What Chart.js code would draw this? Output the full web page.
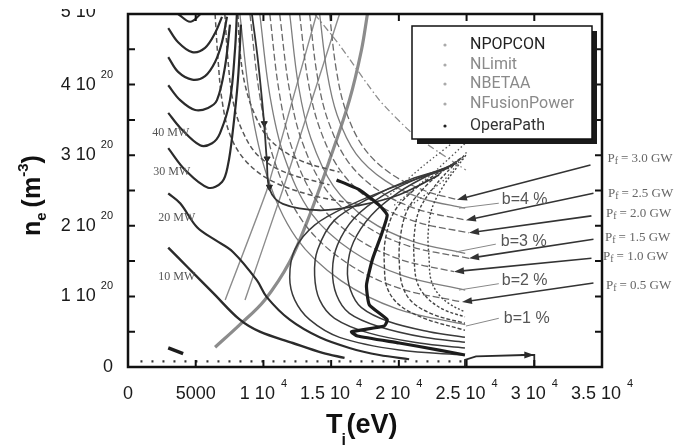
<!DOCTYPE html>
<html>
<head>
<meta charset="utf-8">
<script src="https://cdn.jsdelivr.net/npm/chart.js@4.4.0/dist/chart.umd.min.js"></script>
<style>
  body { margin: 0; background: #fff; }
  #wrap { width: 681px; height: 446px; }
</style>
</head>
<body>
<div id="wrap"><canvas id="popcon" width="681" height="446"></canvas></div>
<script>
// ---- axis ticks ----
var xTicks = [0, 5000, 10000, 15000, 20000, 25000, 30000, 35000]
var xTickText = ['0', '5000', '1 10', '1.5 10', '2 10', '2.5 10', '3 10', '3.5 10']
var xTickExp = ['', '', '4', '4', '4', '4', '4', '4']
var yTicks = [0, 1, 2, 3, 4, 5]
var yTickText = ['0', '1 10', '2 10', '3 10', '4 10', '5 10']
var yTickExp = ['', '20', '20', '20', '20', '20']
var yMinorTicks = [0.5, 1, 1.5, 2, 2.5, 3, 3.5, 4, 4.5]

// ---- POPCON contours, [Ti eV, ne 1e20] ----
var popU1 = [[3700, 5.0], [4590, 4.89], [5320, 4.99]]
var popU2 = [[2970, 4.80], [3700, 4.60], [4740, 4.46], [5690, 4.52], [6430, 4.73], [6940, 4.96]]
var popU3 = [[2970, 4.39], [3700, 4.18], [4740, 4.07], [5690, 4.12], [6430, 4.32], [6940, 4.60], [7310, 4.96]]
var popU4 = [[2970, 3.99], [3850, 3.78], [4960, 3.64], [5910, 3.67], [6570, 3.78], [7160, 4.25], [7530, 4.85]]
var pop40 = [[2970, 3.60], [3850, 3.39], [5320, 3.14], [6210, 3.17], [6790, 3.31], [7530, 3.78], [7900, 4.49], [8040, 5.0]]
var pop30 = [[2970, 3.10], [4220, 2.79], [5910, 2.54], [6940, 2.62], [7380, 2.86], [7750, 3.36], [8120, 4.07], [8340, 4.85]]
var pop20 = [[2970, 2.46], [3850, 2.32], [5100, 1.98], [6430, 1.80], [7750, 1.63], [9510, 1.23], [10250, 0.99], [11940, 0.67], [14150, 0.42], [16350, 0.27], [18560, 0.17], [20760, 0.11]]
var pop10 = [[2970, 1.69], [4370, 1.42], [6280, 1.05], [8260, 0.67], [9730, 0.50], [12160, 0.34], [14370, 0.20], [15990, 0.13]]
var popU7 = [[9150, 5.0], [9590, 4.35], [10030, 3.50], [10250, 2.93], [10470, 2.51], [11430, 2.31], [14150, 2.22], [17090, 2.29], [20030, 2.44], [22970, 2.72]]
var popU7Arrows = [[10060, 3.45], [10270, 2.95], [10440, 2.55]]

var arc1 = [[23340, 2.79], [20030, 2.58], [16350, 2.29], [13780, 2.01], [12310, 1.66], [11940, 1.27], [12310, 0.95], [13410, 0.67], [15620, 0.42], [20030, 0.24], [24880, 0.17]]
var arc2 = [[23700, 2.82], [20760, 2.65], [17820, 2.39], [15250, 2.08], [14000, 1.66], [13780, 1.30], [14150, 0.95], [15250, 0.69], [17820, 0.48], [21500, 0.34], [24880, 0.27]]
var arc3 = [[24070, 2.86], [21500, 2.68], [18930, 2.44], [16720, 2.11], [15470, 1.73], [15100, 1.37], [15400, 1.02], [16350, 0.76], [18560, 0.57], [21870, 0.42], [24880, 0.35]]
var arc4 = [[24290, 2.89], [22230, 2.72], [20030, 2.48], [17970, 2.15], [16650, 1.77], [16210, 1.40], [16430, 1.09], [17240, 0.84], [19290, 0.64], [22230, 0.50], [24880, 0.42]]
var arc5 = [[24440, 2.93], [22970, 2.76], [21130, 2.51], [19660, 2.20], [19000, 1.80], [18930, 1.44], [19140, 1.12], [20030, 0.88], [21870, 0.69], [24880, 0.52]]
var arc6 = [[24590, 2.96], [23340, 2.79], [21870, 2.54], [20620, 2.22], [20100, 1.83], [20030, 1.49], [20250, 1.16], [20980, 0.92], [22600, 0.74], [24880, 0.62]]
var arc7 = [[24810, 2.99], [23850, 2.82], [22600, 2.55], [21500, 2.22], [21130, 1.86], [21130, 1.52], [21350, 1.20], [22080, 0.98], [23340, 0.81], [24880, 0.71]]
var arc8 = [[24950, 3.00], [24290, 2.83], [23340, 2.58], [22450, 2.25], [22160, 1.88], [22230, 1.54], [22380, 1.23], [22970, 1.02], [23850, 0.88], [24880, 0.78]]
var fan1 = [[18930, 2.37], [21870, 2.86], [25030, 3.33]]
var fan2 = [[19660, 2.29], [22600, 2.76], [25030, 3.19]]
var fan3 = [[20400, 2.22], [23340, 2.65], [25030, 3.05]]
var popDash1 = [[6430, 5.0], [6650, 4.35], [6940, 3.78], [7530, 3.29], [8640, 2.93], [10470, 2.65], [13410, 2.44], [17090, 2.30]]
var popDash2 = [[7150, 5.0], [7380, 4.35], [7740, 3.78], [8410, 3.36], [9580, 3.00], [11570, 2.76], [14880, 2.58]]
var popDash3 = [[8120, 5.0], [8260, 4.49], [8640, 4.00], [9370, 3.57], [10470, 3.22], [12670, 2.93], [15620, 2.76]]

// ---- fusion power curves (Pf) ----
var pf30 = [[14880, 5.0], [15380, 4.21], [16080, 3.63], [17390, 3.11], [19390, 2.74], [21890, 2.50], [24290, 2.37]]
var pf25 = [[13410, 5.0], [13980, 4.12], [14790, 3.48], [16280, 2.90], [18580, 2.49], [21450, 2.23], [24950, 2.08]]
var pf20 = [[12670, 5.0], [13280, 4.07], [14140, 3.39], [15730, 2.77], [18170, 2.33], [21230, 2.06], [25180, 1.90]]
var pf15 = [[11200, 5.0], [11890, 3.96], [12840, 3.20], [14630, 2.51], [17370, 2.02], [20790, 1.71], [25180, 1.54]]
var pf10 = [[10470, 5.0], [11150, 3.91], [12110, 3.10], [13880, 2.37], [16600, 1.86], [20010, 1.53], [24070, 1.35]]
var pf05 = [[9000, 5.0], [9780, 3.78], [10880, 2.88], [12910, 2.06], [16040, 1.49], [19960, 1.12], [24660, 0.92]]

// ---- beta curves ----
var beta4 = [[14150, 5.0], [14690, 4.18], [15440, 3.57], [16840, 3.02], [18990, 2.64], [21680, 2.39], [24900, 2.25]]
var beta3 = [[11940, 5.0], [12590, 3.98], [13500, 3.24], [15180, 2.56], [17770, 2.08], [21010, 1.78], [24900, 1.61]]
var beta2 = [[9730, 5.0], [10490, 3.83], [11550, 2.97], [13520, 2.18], [16560, 1.64], [20350, 1.29], [24900, 1.09]]
var beta1 = [[8260, 5.0], [9090, 3.68], [10260, 2.71], [12420, 1.83], [15750, 1.22], [19910, 0.82], [24900, 0.60]]

// ---- density limit lines ----
var limitThick = [[6430, 0.28], [8260, 0.60], [10100, 0.95], [11940, 1.49], [13410, 2.15], [14880, 2.93], [16350, 3.78], [17240, 4.49], [17680, 5.0]]
var limit1 = [[7180, 0.95], [10260, 2.51], [13930, 5.0]]
var limit2 = [[8640, 0.95], [11430, 2.51], [15620, 5.0]]
var limitDashDot = [[13780, 5.0], [15620, 4.56], [18560, 3.78], [20980, 3.31], [22970, 3.04], [24950, 2.79]]
var floorDots = [[920, 0.08], [24900, 0.08]]

// ---- operation path ----
var operaPath = [[15400, 2.65], [17090, 2.51], [18560, 2.29], [19140, 2.15], [18700, 1.87], [18040, 1.52], [17610, 1.16], [17820, 0.88], [19140, 0.67], [18920, 0.58], [16500, 0.50], [16940, 0.44], [20030, 0.34], [22970, 0.24], [24880, 0.17]]
var operaStart = [[2970, 0.27], [4070, 0.19]]
var operaEnd = [[24880, 0], [24880, 0.10], [25700, 0.15], [29300, 0.17], [30000, 0.17], [30000, 0]]

// ---- annotations ----
var mwText = ['40 MW', '30 MW', '20 MW', '10 MW']
var mwPos = [[1790, 3.31], [1870, 2.76], [2240, 2.11], [2240, 1.27]]
var pfText = ['3.0 GW', '2.5 GW', '2.0 GW', '1.5 GW', '1.0 GW', '0.5 GW']
var pfTextPos = [[35400, 2.95], [35440, 2.46], [35300, 2.17], [35230, 1.84], [35080, 1.56], [35300, 1.15]]
var pfArrowFrom = [[34150, 2.86], [34370, 2.46], [34220, 2.14], [34370, 1.81], [34220, 1.54], [34370, 1.19]]
var pfArrowTo = [[24290, 2.37], [24950, 2.08], [25180, 1.90], [25180, 1.54], [24070, 1.35], [24660, 0.92]]
var betaText = ['b=4 %', 'b=3 %', 'b=2 %', 'b=1 %']
var betaTextPos = [[27600, 2.37], [27530, 1.78], [27600, 1.22], [27750, 0.69]]
var betaLineFrom = [[27380, 2.32], [27160, 1.74], [27380, 1.18], [27380, 0.69]]
var betaLineTo = [[24440, 2.25], [24220, 1.63], [24440, 1.09], [24950, 0.58]]

var legendNames = ['NPOPCON', 'NLimit', 'NBETAA', 'NFusionPower', 'OperaPath']
var legendColors = ['#222', '#8a8a8a', '#8a8a8a', '#8a8a8a', '#333']

function curve(pts, color, width, dash, tension) {
    return {
        data: pts.map(p => ({ x: p[0], y: p[1] })),
        showLine: true,
        pointRadius: 0,
        borderColor: color,
        borderWidth: width,
        borderDash: dash || [],
        tension: tension == null ? 0.35 : tension,
        fill: false
    }
}

var datasets = [
    curve(operaPath, '#1c1c1c', 3.2, null, 0.15),
    curve(operaStart, '#1c1c1c', 3.5, null, 0),
    curve(operaEnd, '#2a2a2a', 1.8, null, 0),
    curve(popU1, '#2b2b2b', 2.2),
    curve(popU2, '#2b2b2b', 2.2),
    curve(popU3, '#2b2b2b', 2.2),
    curve(popU4, '#2b2b2b', 2.2),
    curve(pop40, '#2b2b2b', 2.2),
    curve(pop30, '#2b2b2b', 2.2),
    curve(pop20, '#2b2b2b', 2.2),
    curve(pop10, '#2b2b2b', 2.4),
    curve(popU7, '#333', 1.8),
    {
        data: popU7Arrows.map(p => ({ x: p[0], y: p[1] })),
        showLine: false, pointStyle: 'triangle', rotation: 180,
        pointRadius: 3.5, backgroundColor: '#222', borderColor: '#222'
    },
    curve(arc1, '#3a3a3a', 1.5),
    curve(arc2, '#3a3a3a', 1.5),
    curve(arc3, '#3a3a3a', 1.5),
    curve(arc4, '#3a3a3a', 1.5),
    curve(arc5, '#444', 1.4, [4, 2]),
    curve(arc6, '#444', 1.4, [4, 2]),
    curve(arc7, '#444', 1.4, [3, 2]),
    curve(arc8, '#444', 1.4, [2, 2]),
    curve(fan1, '#555', 1.3, [1.5, 2.5], 0.2),
    curve(fan2, '#555', 1.3, [1.5, 2.5], 0.2),
    curve(fan3, '#555', 1.3, [1.5, 2.5], 0.2),
    curve(popDash1, '#555', 1.5, [5, 3]),
    curve(popDash2, '#555', 1.5, [5, 3]),
    curve(popDash3, '#555', 1.5, [5, 3]),
    curve(pf30, '#6a6a6a', 1.3, [7, 3]),
    curve(pf25, '#6a6a6a', 1.3, [7, 3]),
    curve(pf20, '#6a6a6a', 1.3, [7, 3]),
    curve(pf15, '#6a6a6a', 1.3, [7, 3]),
    curve(pf10, '#6a6a6a', 1.3, [7, 3]),
    curve(pf05, '#6a6a6a', 1.3, [7, 3]),
    curve(beta4, '#7d7d7d', 1.3),
    curve(beta3, '#7d7d7d', 1.3),
    curve(beta2, '#7d7d7d', 1.3),
    curve(beta1, '#7d7d7d', 1.3),
    curve(limitThick, '#8c8c8c', 3.2),
    curve(limit1, '#8c8c8c', 1.4, null, 0.1),
    curve(limit2, '#8c8c8c', 1.4, null, 0.1),
    curve(limitDashDot, '#8c8c8c', 1.3, [7, 3, 1.5, 3], 0.2),
    curve(floorDots, '#333', 2.2, [2, 9], 0)
]

function arrow(ctx, x1, y1, x2, y2) {
    var a = Math.atan2(y2 - y1, x2 - x1)
    ctx.beginPath()
    ctx.moveTo(x1, y1)
    ctx.lineTo(x2 - 6 * Math.cos(a), y2 - 6 * Math.sin(a))
    ctx.stroke()
    ctx.beginPath()
    ctx.moveTo(x2, y2)
    ctx.lineTo(x2 - 10 * Math.cos(a) + 3.5 * Math.sin(a), y2 - 10 * Math.sin(a) - 3.5 * Math.cos(a))
    ctx.lineTo(x2 - 10 * Math.cos(a) - 3.5 * Math.sin(a), y2 - 10 * Math.sin(a) + 3.5 * Math.cos(a))
    ctx.closePath()
    ctx.fill()
}

var decorations = {
    id: 'decorations',
    afterDatasetsDraw(chart) {
        var ctx = chart.ctx
        var xs = chart.scales.x, ys = chart.scales.y
        var ca = chart.chartArea
        var X = v => xs.getPixelForValue(v)
        var Y = v => ys.getPixelForValue(v)
        ctx.save()

        // frame and inward ticks
        ctx.strokeStyle = '#111'
        ctx.lineWidth = 2.5
        ctx.strokeRect(ca.left, ca.top, ca.right - ca.left, ca.bottom - ca.top)
        ctx.lineWidth = 2
        xTicks.forEach(t => {
            if (t == 0 || t == 35000) return
            ctx.beginPath()
            ctx.moveTo(X(t), ca.bottom); ctx.lineTo(X(t), ca.bottom - 7)
            ctx.moveTo(X(t), ca.top); ctx.lineTo(X(t), ca.top + 7)
            ctx.stroke()
        })
        yMinorTicks.forEach(v => {
            ctx.beginPath()
            ctx.moveTo(ca.left, Y(v)); ctx.lineTo(ca.left + 7, Y(v))
            ctx.moveTo(ca.right, Y(v)); ctx.lineTo(ca.right - 7, Y(v))
            ctx.stroke()
        })

        // tick labels
        ctx.fillStyle = '#1a1a1a'
        ctx.textBaseline = 'middle'
        yTicks.forEach((v, i) => {
            ctx.save()
            if (v == 5) { ctx.beginPath(); ctx.rect(0, 9, ca.left - 2, 40); ctx.clip() }
            var right = 113
            var yy = v == 5 ? Y(v) - 2 : Y(v)
            ctx.textAlign = 'right'
            if (yTickExp[i]) {
                ctx.font = '11px "Liberation Sans", Arial, sans-serif'
                ctx.fillText(yTickExp[i], right, yy - 10)
                right -= ctx.measureText(yTickExp[i]).width + 5
            }
            ctx.font = '18px "Liberation Sans", Arial, sans-serif'
            ctx.fillText(yTickText[i], right, yy)
            ctx.restore()
        })
        xTicks.forEach((t, i) => {
            ctx.font = '18px "Liberation Sans", Arial, sans-serif'
            var w1 = ctx.measureText(xTickText[i]).width
            ctx.font = '11px "Liberation Sans", Arial, sans-serif'
            var w2 = xTickExp[i] ? ctx.measureText(xTickExp[i]).width + 6 : 0
            var x0 = X(t) - (w1 + w2) / 2
            ctx.textAlign = 'left'
            ctx.font = '18px "Liberation Sans", Arial, sans-serif'
            ctx.fillText(xTickText[i], x0, 394)
            if (xTickExp[i]) {
                ctx.font = '11px "Liberation Sans", Arial, sans-serif'
                ctx.fillText(xTickExp[i], x0 + w1 + 6, 384)
            }
        })

        // axis titles
        ctx.fillStyle = '#111'
        ctx.textBaseline = 'alphabetic'
        ctx.textAlign = 'left'
        ctx.font = 'bold 27px "Liberation Sans", Arial, sans-serif'
        ctx.fillText('T', 326, 433)
        var tw = ctx.measureText('T').width
        ctx.font = 'bold 16px "Liberation Sans", Arial, sans-serif'
        ctx.fillText('i', 326 + tw - 1, 445)
        ctx.font = 'bold 27px "Liberation Sans", Arial, sans-serif'
        ctx.fillText('(eV)', 326 + tw + 4, 433)

        ctx.save()
        ctx.translate(40, 236)
        ctx.rotate(-Math.PI / 2)
        var cx = 0
        ctx.font = 'bold 25px "Liberation Sans", Arial, sans-serif'
        ctx.fillText('n', cx, 0); cx += ctx.measureText('n').width
        ctx.font = 'bold 15px "Liberation Sans", Arial, sans-serif'
        ctx.fillText('e', cx, 6); cx += ctx.measureText('e').width + 5
        ctx.font = 'bold 25px "Liberation Sans", Arial, sans-serif'
        ctx.fillText('(m', cx, 0); cx += ctx.measureText('(m').width
        ctx.font = 'bold 15px "Liberation Sans", Arial, sans-serif'
        ctx.fillText('-3', cx, -12); cx += ctx.measureText('-3').width
        ctx.font = 'bold 25px "Liberation Sans", Arial, sans-serif'
        ctx.fillText(')', cx, 0)
        ctx.restore()

        // MW labels
        ctx.fillStyle = '#555'
        ctx.textBaseline = 'middle'
        ctx.font = '12px "Liberation Serif", "Times New Roman", serif'
        mwText.forEach((s, i) => ctx.fillText(s, X(mwPos[i][0]), Y(mwPos[i][1])))

        // Pf arrows and labels
        ctx.strokeStyle = '#333'
        ctx.fillStyle = '#333'
        ctx.lineWidth = 1.6
        pfText.forEach((s, i) => {
            arrow(ctx, X(pfArrowFrom[i][0]), Y(pfArrowFrom[i][1]), X(pfArrowTo[i][0]), Y(pfArrowTo[i][1]))
            var lx = X(pfTextPos[i][0]), ly = Y(pfTextPos[i][1])
            ctx.fillStyle = '#666'
            ctx.font = '13px "Liberation Serif", "Times New Roman", serif'
            ctx.fillText('P', lx, ly)
            var pw = ctx.measureText('P').width
            ctx.font = '10px "Liberation Serif", "Times New Roman", serif'
            ctx.fillText('f', lx + pw, ly + 3)
            ctx.font = '13px "Liberation Serif", "Times New Roman", serif'
            ctx.fillText(' = ' + s, lx + pw + 3, ly)
            ctx.fillStyle = '#333'
        })

        // beta labels
        ctx.strokeStyle = '#888'
        ctx.lineWidth = 1
        betaText.forEach((s, i) => {
            ctx.beginPath()
            ctx.moveTo(X(betaLineFrom[i][0]), Y(betaLineFrom[i][1]))
            ctx.lineTo(X(betaLineTo[i][0]), Y(betaLineTo[i][1]))
            ctx.stroke()
            ctx.fillStyle = '#555'
            ctx.font = '16px "Liberation Sans", Arial, sans-serif'
            ctx.fillText(s, X(betaTextPos[i][0]), Y(betaTextPos[i][1]))
        })

        // bottom right path arrow head
        ctx.fillStyle = '#2a2a2a'
        ctx.strokeStyle = '#2a2a2a'
        ctx.lineWidth = 1.8
        arrow(ctx, X(29000), Y(0.17), X(30000), Y(0.17))

        // legend box
        var lx = 412, ly = 26, lw = 180, lh = 113
        ctx.fillStyle = '#1a1a1a'
        ctx.fillRect(lx + 5, ly + 5, lw, lh)
        ctx.fillStyle = '#fff'
        ctx.fillRect(lx, ly, lw, lh)
        ctx.strokeStyle = '#111'
        ctx.lineWidth = 1.5
        ctx.strokeRect(lx, ly, lw, lh)
        var rows = [45, 65, 84, 104, 126]
        ctx.font = '16px Roboto, "Liberation Sans", sans-serif'
        ctx.textAlign = 'left'
        legendNames.forEach((s, i) => {
            ctx.fillStyle = i == 4 ? '#222' : '#aaa'
            ctx.beginPath()
            ctx.arc(445, rows[i], 1.6, 0, Math.PI * 2)
            ctx.fill()
            ctx.fillStyle = legendColors[i]
            ctx.fillText(s, 470, rows[i])
        })
        ctx.restore()
    }
}

var ctx = document.getElementById('popcon').getContext('2d')
var popconChart = new Chart(ctx, {
    type: 'scatter',
    data: { datasets: datasets },
    options: {
        responsive: false,
        animation: false,
        layout: { padding: { left: 128, right: 79, top: 14, bottom: 79 } },
        plugins: { legend: { display: false }, tooltip: { enabled: false } },
        scales: {
            x: { type: 'linear', min: 0, max: 35000, display: false },
            y: { type: 'linear', min: 0, max: 5, display: false }
        }
    },
    plugins: [decorations]
})
</script>
</body>
</html>
